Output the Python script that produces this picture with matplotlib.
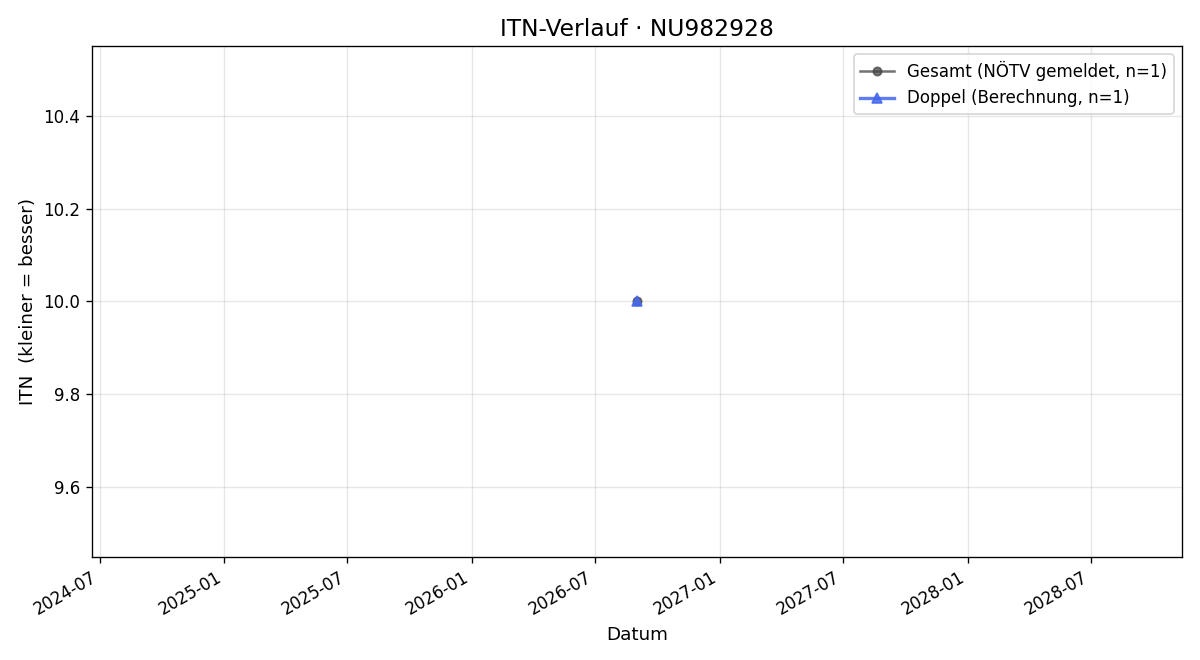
import matplotlib
matplotlib.use("Agg")
import matplotlib.pyplot as plt
import matplotlib.dates as mdates
import pandas as pd

gesamt_dates = ["2026-09-01"]
gesamt_values = [10.0]
doppel_dates = ["2026-09-01"]
doppel_values = [10.0]

fig, ax = plt.subplots(figsize=(10, 5.5), dpi=120)
ax.plot(pd.to_datetime(gesamt_dates), gesamt_values, marker="o", color="#444444",
        alpha=0.75, linewidth=1.5, markersize=5, label="Gesamt (NÖTV gemeldet, n=1)")
ax.plot(pd.to_datetime(doppel_dates), doppel_values, marker="^", color="#4466ee",
        alpha=0.85, linewidth=2, markersize=6, label="Doppel (Berechnung, n=1)")
ax.set_title("ITN-Verlauf · NU982928", fontsize=14)
ax.set_xlabel("Datum", fontsize=11)
ax.set_ylabel("ITN  (kleiner = besser)", fontsize=11)
ax.grid(True, alpha=0.3)
ax.xaxis.set_major_formatter(mdates.DateFormatter("%Y-%m"))
ax.legend(loc="upper right")
fig.autofmt_xdate()
fig.subplots_adjust(left=0.0767, right=0.985, top=0.9303, bottom=0.1561)
fig.savefig("out.png", dpi=120)
